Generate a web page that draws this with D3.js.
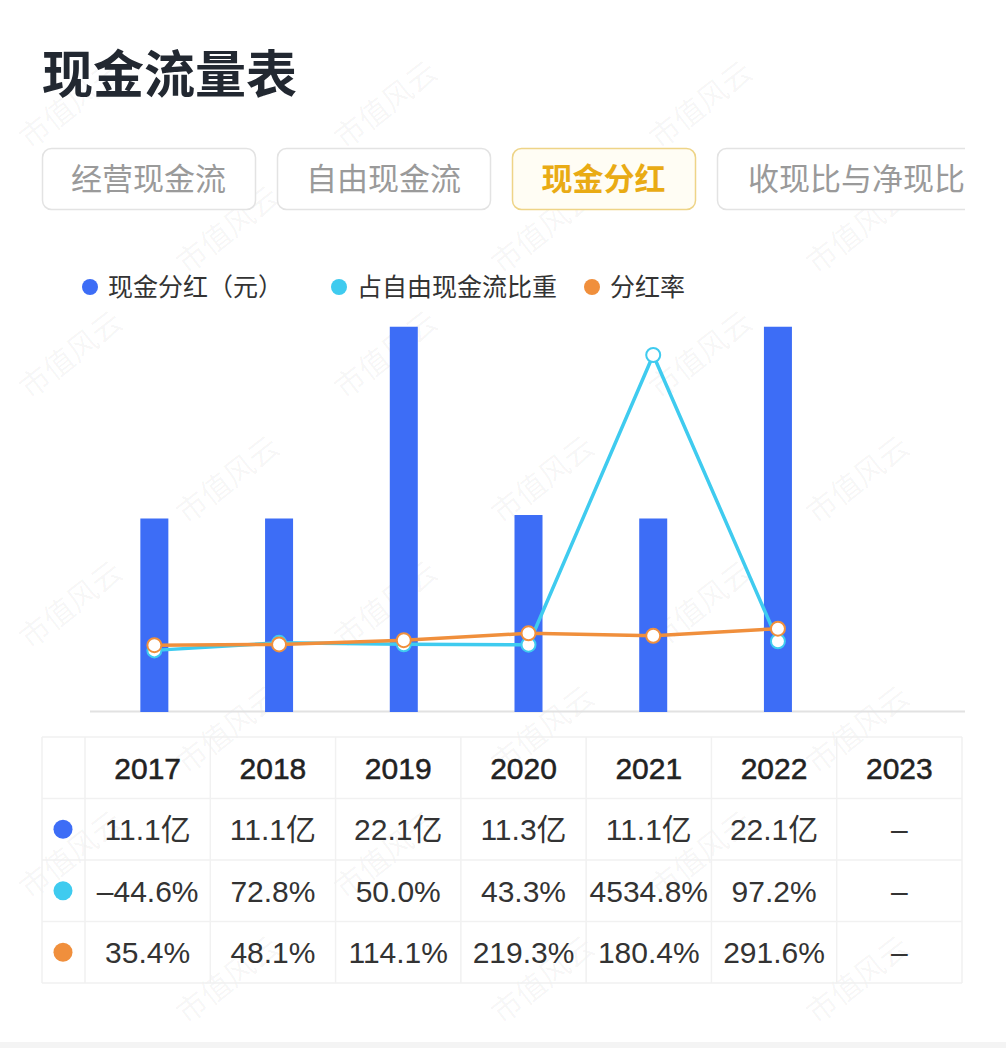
<!DOCTYPE html>
<html>
<head>
<meta charset="utf-8">
<script src="https://cdn.jsdelivr.net/npm/d3@7"></script>
<style>
  body { margin: 0; background: #fff; }
  svg { display: block; }
</style>
</head>
<body>
<svg id="chart" width="1006" height="1048"></svg>
<script>
const FONT_CJK = "'Noto Sans CJK SC', 'Noto Sans', sans-serif";
const FONT_NUM = "'Liberation Sans', 'Noto Sans CJK SC', sans-serif";

const BLUE = "#3d6df6";
const CYAN = "#3fcbef";
const ORANGE = "#f08f3c";

// data
var years = ["2017", "2018", "2019", "2020", "2021", "2022", "2023"];
var dividends = [11.1, 11.1, 22.1, 11.3, 11.1, 22.1, null];          // 亿元
var fcfShare = [-44.6, 72.8, 50.0, 43.3, 4534.8, 97.2, null];        // %
var payoutRatio = [35.4, 48.1, 114.1, 219.3, 180.4, 291.6, null];    // %

var tabs = ["经营现金流", "自由现金流", "现金分红", "收现比与净现比"];
var legendNames = ["现金分红（元）", "占自由现金流比重", "分红率"];

var svg = d3.select("#chart");

// watermark (only where it fits inside the page)
var wm = svg.append("g").attr("fill", "#000").attr("fill-opacity", 0.045)
  .attr("font-family", FONT_CJK).attr("font-size", 30);
for (var r = 0; r < 9; r++) {
  for (var c = 0; c < 5; c++) {
    var wx = 30 + c * 315 + (r % 2) * 157;
    var wy = 150 + r * 125;
    if (wx + 110 > 1000 || wy > 1035) continue;
    wm.append("text")
      .attr("transform", "translate(" + wx + "," + wy + ") rotate(-38)")
      .text("市值风云");
  }
}

// title
svg.append("text")
   .attr("x", 42).attr("y", 93)
   .attr("font-family", FONT_CJK).attr("font-size", 51).attr("font-weight", "bold")
   .attr("fill", "#222831")
   .text("现金流量表");

// tabs
var tabX = [42, 277, 512, 717];
var tabW = [213, 213, 183, 260];
var clip = svg.append("defs").append("clipPath").attr("id", "tabclip");
clip.append("rect").attr("x", 0).attr("y", 0).attr("width", 965).attr("height", 1048);
var tabG = svg.append("g").attr("clip-path", "url(#tabclip)");
tabs.forEach(function(t, i) {
  var active = i === 2;
  tabG.append("rect")
      .attr("x", tabX[i] + 0.5).attr("y", 148.5)
      .attr("width", tabW[i]).attr("height", 61)
      .attr("rx", 9)
      .attr("fill", active ? "#fffdf4" : "#fff")
      .attr("stroke", active ? "#eed487" : "#e3e3e3")
      .attr("stroke-width", 1.5);
  tabG.append("text")
      .attr("x", i === 3 ? 748 : tabX[i] + tabW[i] / 2)
      .attr("y", 190)
      .attr("text-anchor", i === 3 ? "start" : "middle")
      .attr("font-family", FONT_CJK).attr("font-size", 31)
      .attr("font-weight", active ? "bold" : "normal")
      .attr("fill", active ? "#e9ab14" : "#9a9a9a")
      .text(t);
});

// legend
var legendColors = [BLUE, CYAN, ORANGE];
var legendX = [90, 339, 592];
legendNames.forEach(function(n, i) {
  svg.append("circle").attr("cx", legendX[i]).attr("cy", 287).attr("r", 8).attr("fill", legendColors[i]);
  svg.append("text")
     .attr("x", legendX[i] + 18).attr("y", 296)
     .attr("font-family", FONT_CJK).attr("font-size", 25)
     .attr("fill", "#333")
     .text(n);
});

// scales
var x = d3.scaleBand().domain(years).range([92, 965]);
var yBar = d3.scaleLinear().domain([0, 22.2]).range([712, 325]);
var yPct = d3.scaleLinear().domain([-1000, 5000]).range([712, 325]);

// axis line
svg.append("line")
   .attr("x1", 90).attr("x2", 965)
   .attr("y1", 711.5).attr("y2", 711.5)
   .attr("stroke", "#e2e2e2").attr("stroke-width", 2);

// bars
var BAR_W = 28;
svg.append("g").selectAll("rect")
   .data(years.map(function(y, i) { return { year: y, v: dividends[i] }; }).filter(function(d) { return d.v != null; }))
   .enter().append("rect")
   .attr("x", function(d) { return x(d.year) + x.bandwidth() / 2 - BAR_W / 2; })
   .attr("y", function(d) { return yBar(d.v); })
   .attr("width", BAR_W)
   .attr("height", function(d) { return yBar(0) - yBar(d.v); })
   .attr("fill", BLUE);

// lines
function drawLine(values, color) {
  var pts = years.map(function(y, i) { return { year: y, v: values[i] }; }).filter(function(d) { return d.v != null; });
  var line = d3.line()
     .x(function(d) { return x(d.year) + x.bandwidth() / 2; })
     .y(function(d) { return yPct(d.v); });
  svg.append("path").datum(pts)
     .attr("d", line)
     .attr("fill", "none")
     .attr("stroke", color)
     .attr("stroke-width", 3.5)
     .attr("stroke-linejoin", "round");
  svg.append("g").selectAll("circle")
     .data(pts).enter().append("circle")
     .attr("cx", function(d) { return x(d.year) + x.bandwidth() / 2; })
     .attr("cy", function(d) { return yPct(d.v); })
     .attr("r", 7)
     .attr("fill", "#fff")
     .attr("stroke", color)
     .attr("stroke-width", 2);
}
drawLine(fcfShare, CYAN);
drawLine(payoutRatio, ORANGE);

// table
var TABLE_LEFT = 42, TABLE_TOP = 737, ROW_H = 61.5;
var tx = d3.scaleBand().domain(years).range([85, 962]);
var table = svg.append("g");
var rowsCount = 4;
var tableBottom = TABLE_TOP + ROW_H * rowsCount;

// grid
var gridColor = "#f1f1f1";
for (var k = 0; k <= rowsCount; k++) {
  table.append("line")
       .attr("x1", TABLE_LEFT).attr("x2", 962)
       .attr("y1", TABLE_TOP + k * ROW_H).attr("y2", TABLE_TOP + k * ROW_H)
       .attr("stroke", gridColor).attr("stroke-width", 1.5);
}
var colEdges = [TABLE_LEFT].concat(years.map(function(y) { return tx(y); })).concat([962]);
colEdges.forEach(function(cx) {
  table.append("line")
       .attr("x1", cx).attr("x2", cx)
       .attr("y1", TABLE_TOP).attr("y2", tableBottom)
       .attr("stroke", gridColor).attr("stroke-width", 1.5);
});

// header
table.selectAll("text.year")
     .data(years).enter().append("text")
     .attr("class", "year")
     .attr("x", function(d) { return tx(d) + tx.bandwidth() / 2; })
     .attr("y", TABLE_TOP + ROW_H / 2 + 11)
     .attr("text-anchor", "middle")
     .attr("font-family", FONT_NUM).attr("font-size", 30)
     .attr("fill", "#222")
     .attr("stroke", "#222").attr("stroke-width", 0.5)
     .text(function(d) { return d; });

var rows = [
  { color: BLUE, values: dividends, fmt: function(v) { return v.toFixed(1) + "亿"; } },
  { color: CYAN, values: fcfShare, fmt: function(v) { return v.toFixed(1) + "%"; } },
  { color: ORANGE, values: payoutRatio, fmt: function(v) { return v.toFixed(1) + "%"; } }
];
rows.forEach(function(row, ri) {
  var cy = TABLE_TOP + ROW_H * (ri + 1) + ROW_H / 2;
  table.append("circle").attr("cx", 63).attr("cy", cy).attr("r", 9.5).attr("fill", row.color);
  table.selectAll("text.r" + ri)
       .data(years.map(function(y, i) { return { year: y, v: row.values[i] }; }))
       .enter().append("text")
       .attr("x", function(d) { return tx(d.year) + tx.bandwidth() / 2; })
       .attr("y", cy + 11)
       .attr("text-anchor", "middle")
       .attr("font-family", FONT_NUM).attr("font-size", 30)
       .attr("fill", "#333")
       .text(function(d) { return d.v == null ? "–" : row.fmt(d.v).replace("-", "–"); });
});

// bottom strip
svg.append("rect").attr("x", 0).attr("y", 1042).attr("width", 1006).attr("height", 6).attr("fill", "#f4f4f4");
</script>
</body>
</html>
